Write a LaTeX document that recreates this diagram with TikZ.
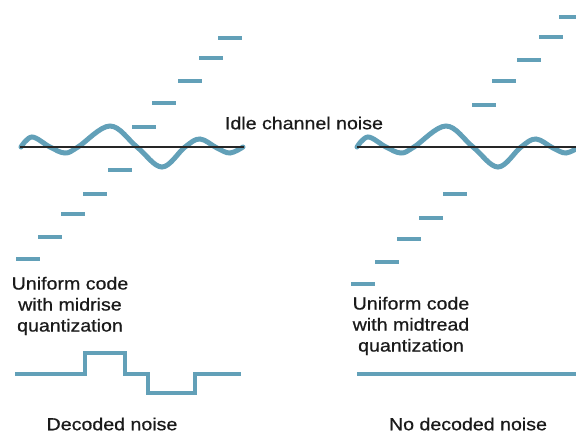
\documentclass[tikz,border=0pt]{standalone}
\usepackage{fontspec}
\setmainfont{Liberation Sans}
\newfontfamily\lblfont[FakeStretch=1.12,FakeBold=0.7]{Liberation Sans}
\definecolor{qblue}{HTML}{62A0B8}
\definecolor{txt}{HTML}{1A1A1A}
\begin{document}
\begin{tikzpicture}[x=1pt,y=-1pt,
  stepseg/.style={qblue,line width=4pt},
  wave/.style={qblue,line width=5pt,line cap=round},
  axisline/.style={black!85,line width=1.8pt},
  decoded/.style={qblue,line width=3.5pt},
  lbl/.style={font=\lblfont\fontsize{17.5}{21}\selectfont,text=txt,align=center,inner sep=0pt}]
\useasboundingbox (0,0) rectangle (576,437);
% left waveform
\draw[wave] plot[smooth,tension=0.6] coordinates {(21,147) (32,137) (50,147) (65,153) (78,147) (110,126) (137,147) (162,167) (185,147) (200,139) (217,148) (230,153) (243,147)};
\draw[axisline] (20,147) -- (244,147);
% right waveform
\begin{scope}[xshift=336pt]
\draw[wave] plot[smooth,tension=0.6] coordinates {(21,147) (32,137) (50,147) (65,153) (78,147) (110,126) (137,147) (162,167) (185,147) (200,139) (217,148) (230,153) (243,147)};
\end{scope}
\draw[axisline] (357,147) -- (576,147);
% left steps (midrise)
\foreach \x/\y in {16/259,38/237,61/214,83/194,108/170,132/127,152/103,178/81,199/58,218/38}
  \draw[stepseg] (\x,\y) -- ++(24,0);
% right steps (midtread)
\foreach \x/\y in {351/284,375/262,397/239,419/218,443/194,472/105,492/81,517/60,539/37}
  \draw[stepseg] (\x,\y) -- ++(24,0);
\draw[stepseg] (559,17) -- (576,17);
% texts
\node[lbl] (idle) at (304,123) {Idle channel noise};
\node[lbl] (midrise) at (70,306) {Uniform code\\with midrise\\quantization};
\node[lbl] (midtread) at (411,326) {Uniform code\\with midtread\\quantization};
\node[lbl] (dec) at (112,424) {Decoded noise};
\node[lbl] (nodec) at (468,424) {No decoded noise};
% decoded outputs
\draw[decoded] (15,374) -- (85,374) -- (85,353) -- (125,353) -- (125,374) -- (148,374) -- (148,393) -- (195,393) -- (195,374) -- (241,374);
\draw[decoded] (357,374) -- (576,374);
\end{tikzpicture}
\end{document}
